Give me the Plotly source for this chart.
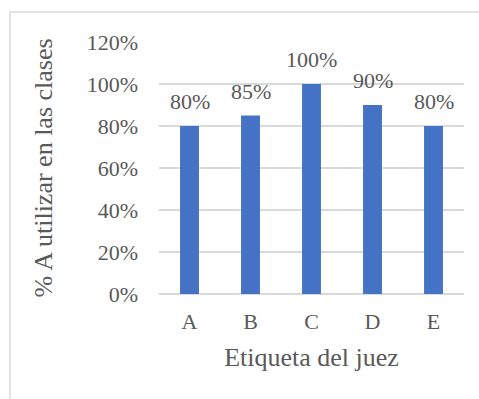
import plotly.graph_objects as go

# Share of class time each judge label is used
judges = ["A", "B", "C", "D", "E"]
usage = [0.80, 0.85, 1.00, 0.90, 0.80]
y_ticks = [0, 0.2, 0.4, 0.6, 0.8, 1.0, 1.2]
y_tick_text = ["0%", "20%", "40%", "60%", "80%", "100%", "120%"]

W, H = 479, 399
L, R, T, B = 159, 15, 42, 105
text_color = "#595959"
grid_color = "#D9D9D9"
font_family = "Liberation Serif"

fig = go.Figure(
    go.Bar(
        x=judges,
        y=usage,
        width=0.31,
        marker=dict(color="#4472C4", line=dict(width=0)),
        hoverinfo="skip",
    )
)

# Value labels above each bar
for j, v in zip(judges, usage):
    fig.add_annotation(
        x=j, y=v, xref="x", yref="y",
        text=f"{v * 100:.0f}%",
        showarrow=False,
        yanchor="bottom",
        yshift=10,
        font=dict(family=font_family, size=22, color=text_color),
    )

# Light frame around the chart area
pw, ph = W - L - R, H - T - B
fig.add_shape(
    type="rect", xref="paper", yref="paper",
    x0=(10 - L) / pw, x1=(W + 5 - L) / pw,
    y0=-(H + 5 - T - ph) / ph, y1=(H - B - 12) / ph,
    line=dict(color=grid_color, width=1.5),
    fillcolor="rgba(0,0,0,0)",
    layer="below",
)

fig.update_layout(
    width=W, height=H,
    margin=dict(l=L, r=R, t=T, b=B, pad=0),
    paper_bgcolor="white",
    plot_bgcolor="white",
    showlegend=False,
    font=dict(family=font_family, size=22, color=text_color),
    xaxis=dict(
        title=dict(text="Etiqueta del juez",
                   font=dict(family=font_family, size=26, color=text_color), standoff=14),
        showgrid=False,
        showline=False,
        ticks="",
        ticklabelstandoff=12,
        tickfont=dict(family=font_family, size=22, color=text_color),
    ),
    yaxis=dict(
        title=dict(text="% A utilizar en las clases",
                   font=dict(family=font_family, size=26, color=text_color), standoff=26),
        range=[0, 1.2],
        tickvals=y_ticks,
        ticktext=y_tick_text,
        showgrid=True,
        gridcolor=grid_color,
        gridwidth=1.5,
        zeroline=True,
        zerolinecolor=grid_color,
        zerolinewidth=1.5,
        showline=False,
        ticks="",
        ticklabelstandoff=20,
        tickfont=dict(family=font_family, size=22, color=text_color),
    ),
)

fig.write_html("out.html")
